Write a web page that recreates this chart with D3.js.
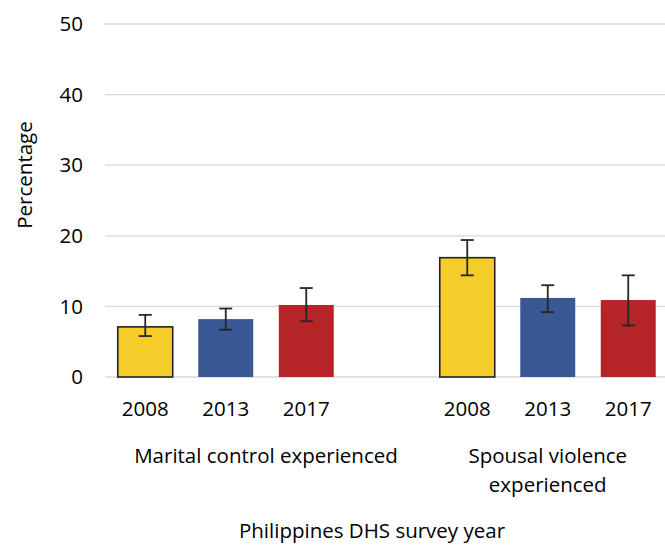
<!DOCTYPE html>
<html>
<head>
<meta charset="utf-8">
<script src="https://cdn.jsdelivr.net/npm/d3@7"></script>
<style>
  body { margin: 0; background: #fff; }
  text { font-family: "Open Sans", sans-serif; fill: #000; }
</style>
</head>
<body>
<div id="chart"></div>
<script>
// Data
var groups = ["Marital control experienced", "Spousal violence experienced"];
var years = ["2008", "2013", "2017"];
var maritalControl = [7.1, 8.2, 10.2];
var maritalLow = [5.8, 6.7, 7.9];
var maritalHigh = [8.8, 9.7, 12.6];
var spousalViolence = [16.9, 11.2, 10.9];
var spousalLow = [14.4, 9.2, 7.3];
var spousalHigh = [19.4, 13.0, 14.4];
var yTicks = [0, 10, 20, 30, 40, 50];
var colors = ["#F4CD2A", "#3A5894", "#B52426"];

var w = 665;
var h = 545;
var fs = "20.5px";

// one slot per bar, plus an empty slot closing the first group (like the original)
var slots = [];
years.forEach(function(y, i) {
    slots.push({key: "m" + y, group: 0, year: y, i: i, value: maritalControl[i], lo: maritalLow[i], hi: maritalHigh[i]});
});
slots.push({key: "gap", group: 0, year: "", i: -1, value: null});
years.forEach(function(y, i) {
    slots.push({key: "s" + y, group: 1, year: y, i: i, value: spousalViolence[i], lo: spousalLow[i], hi: spousalHigh[i]});
});
var bars = slots.filter(function(d) { return d.value !== null; });

var xScale = d3.scaleBand()
    .domain(slots.map(function(d) { return d.key; }))
    .range([105, 668.5])
    .paddingInner(0.317)
    .paddingOuter(0.1585);

var yScale = d3.scaleLinear()
    .domain([0, 50])
    .range([377, 24]);

var svg = d3.select("#chart")
    .append("svg")
    .attr("width", w)
    .attr("height", h);

// gridlines
svg.selectAll("line.grid")
    .data(yTicks)
    .enter()
    .append("line")
    .attr("class", "grid")
    .attr("x1", 105)
    .attr("x2", w)
    .attr("y1", function(d) { return yScale(d); })
    .attr("y2", function(d) { return yScale(d); })
    .attr("stroke", "#d9d9d9")
    .attr("stroke-width", 1.3);

// y tick labels
svg.selectAll("text.ytick")
    .data(yTicks)
    .enter()
    .append("text")
    .attr("class", "ytick")
    .attr("x", 83)
    .attr("y", function(d) { return yScale(d); })
    .attr("dy", "0.35em")
    .attr("text-anchor", "end")
    .style("font-size", fs)
    .text(function(d) { return d; });

// bars
svg.selectAll("rect.bar")
    .data(bars)
    .enter()
    .append("rect")
    .attr("class", "bar")
    .attr("x", function(d) { return xScale(d.key); })
    .attr("y", function(d) { return yScale(d.value); })
    .attr("width", xScale.bandwidth())
    .attr("height", function(d) { return yScale(0) - yScale(d.value); })
    .attr("fill", function(d) { return colors[d.i]; })
    .attr("stroke", function(d) { return d.i === 0 ? "#222" : "none"; })
    .attr("stroke-width", 1.6);

// error bars
var cap = 6.5;
var err = svg.selectAll("g.err")
    .data(bars)
    .enter()
    .append("g")
    .attr("class", "err")
    .attr("stroke", "#262626")
    .attr("stroke-width", 1.8);

err.append("line")
    .attr("x1", function(d) { return xScale(d.key) + xScale.bandwidth() / 2; })
    .attr("x2", function(d) { return xScale(d.key) + xScale.bandwidth() / 2; })
    .attr("y1", function(d) { return yScale(d.lo); })
    .attr("y2", function(d) { return yScale(d.hi); });

err.append("line")
    .attr("x1", function(d) { return xScale(d.key) + xScale.bandwidth() / 2 - cap; })
    .attr("x2", function(d) { return xScale(d.key) + xScale.bandwidth() / 2 + cap; })
    .attr("y1", function(d) { return yScale(d.hi); })
    .attr("y2", function(d) { return yScale(d.hi); });

err.append("line")
    .attr("x1", function(d) { return xScale(d.key) + xScale.bandwidth() / 2 - cap; })
    .attr("x2", function(d) { return xScale(d.key) + xScale.bandwidth() / 2 + cap; })
    .attr("y1", function(d) { return yScale(d.lo); })
    .attr("y2", function(d) { return yScale(d.lo); });

// year labels
svg.selectAll("text.year")
    .data(bars)
    .enter()
    .append("text")
    .attr("class", "year")
    .attr("x", function(d) { return xScale(d.key) + xScale.bandwidth() / 2; })
    .attr("y", 416)
    .attr("text-anchor", "middle")
    .style("font-size", fs)
    .text(function(d) { return d.year; });

// group labels, centred over the slots of each group
var step = xScale.step();
var groupLines = [["Marital control experienced"], ["Spousal violence", "experienced"]];
groups.forEach(function(g, gi) {
    var members = slots.filter(function(d) { return d.group === gi; });
    var x0 = xScale(members[0].key) - xScale.paddingInner() * step / 2;
    var x1 = x0 + members.length * step;
    var t = svg.append("text")
        .attr("x", (x0 + x1) / 2)
        .attr("y", 463)
        .attr("text-anchor", "middle")
        .style("font-size", fs);
    groupLines[gi].forEach(function(line, li) {
        t.append("tspan")
            .attr("x", (x0 + x1) / 2)
            .attr("dy", li === 0 ? 0 : 28.5)
            .text(line);
    });
});

// axis titles
svg.append("text")
    .attr("x", 372)
    .attr("y", 538)
    .attr("text-anchor", "middle")
    .style("font-size", fs)
    .text("Philippines DHS survey year");

svg.append("text")
    .attr("transform", "translate(32,175) rotate(-90)")
    .attr("text-anchor", "middle")
    .style("font-size", fs)
    .text("Percentage");
</script>
</body>
</html>
